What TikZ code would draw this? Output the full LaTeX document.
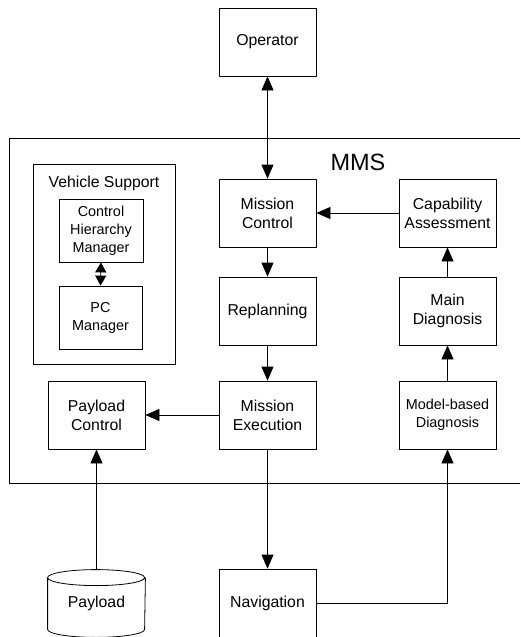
\documentclass[tikz,border=0pt]{standalone}
\usepackage{fontspec}
\setmainfont{Liberation Sans}
\usetikzlibrary{arrows.meta}

\tikzset{
  block/.style={draw, line width=0.8pt, minimum width=97pt, minimum height=68pt,
    align=center, font=\fontsize{15.8}{19}\selectfont},
  smallblock/.style={block, font=\fontsize{14.4}{18}\selectfont},
}

\begin{document}
\begin{tikzpicture}[x=1pt, y=1pt, line width=0.8pt,
  >={Triangle[length=14pt,width=12pt]}]

\useasboundingbox (0,0) rectangle (520,-637);

% MMS frame, open to the right
\draw (520,-138) -- (9,-138) -- (9,-483) -- (520,-483);
\node[font=\fontsize{23.5}{26}\selectfont] (mms) at (358,-162) {MMS};

\node[block] (operator) at (267.5,-42) {Operator};

\node[block] (mission_ctrl) at (267.5,-213) {Mission\\Control};
\draw [<->] (operator.south) -- (mission_ctrl.north);

\node[block] (replanning) at (267.5,-311) {Replanning};
\draw [->] (mission_ctrl.south) -- (replanning.north);

\node[block] (mission_exec) at (267.5,-415) {Mission\\Execution};
\draw [->] (replanning.south) -- (mission_exec.north);

\node[block] (navigation) at (267.5,-603) {Navigation};
\draw [->] (mission_exec.south) -- (navigation.north);

\node[block] (payload_ctrl) at (96.5,-415) {Payload\\Control};
\draw [->] (mission_exec.west) -- (payload_ctrl.east);

% payload store, cylinder drawn round the node
\node[block, draw=none, minimum height=67pt] (payload) at (96.5,-603.5) {Payload};
\draw ([yshift=-8pt]payload.north west)
  arc[start angle=180, end angle=360, x radius=48.5pt, y radius=8pt]
  arc[start angle=0, end angle=180, x radius=48.5pt, y radius=8pt]
  -- ([yshift=8pt]payload.south west)
  arc[start angle=180, end angle=360, x radius=48.5pt, y radius=8pt]
  -- ([yshift=-8pt]payload.north east);
\draw [->] (payload.north) -- (payload_ctrl.south);

\node[smallblock] (model_diag) at (447.5,-415) {Model-based\\Diagnosis};
\draw [->] (navigation.east) -| (model_diag.south);

\node[block] (main_diag) at (447.5,-311) {Main\\Diagnosis};
\draw [->] (model_diag.north) -- (main_diag.south);

\node[block] (capability) at (447.5,-213) {Capability\\Assessment};
\draw [->] (main_diag.north) -- (capability.south);
\draw [->] (capability.west) -- (mission_ctrl.east);

% vehicle support group
\node[draw, minimum width=142pt, minimum height=200pt] (vsupport) at (104,-264) {};
\node[font=\fontsize{15.8}{19}\selectfont] (vsupport_title) at (104,-183) {Vehicle Support};

\node[smallblock, minimum width=84pt, minimum height=63pt] (chm) at (101,-230.5) {Control\\Hierarchy\\Manager};
\node[smallblock, minimum width=83pt, minimum height=63pt] (pcm) at (100.5,-317.5) {PC\\Manager};
\draw [{Triangle[length=10pt,width=11pt]}-{Triangle[length=10pt,width=11pt]}] (chm.south) -- (pcm.north);

\end{tikzpicture}
\end{document}
